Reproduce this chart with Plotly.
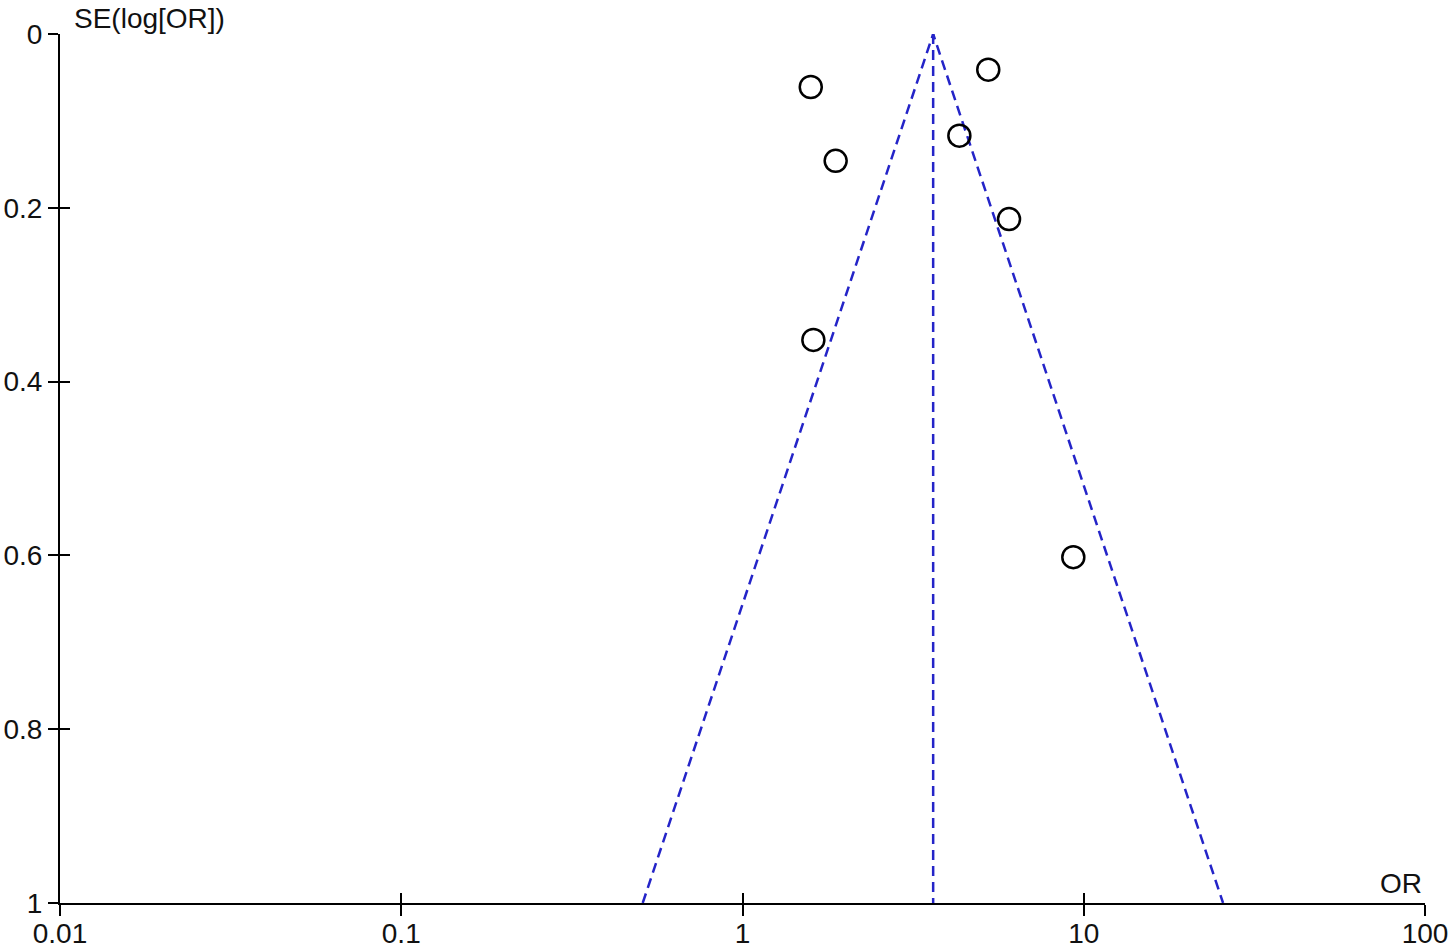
import plotly.graph_objects as go

# study estimates
study_or = [1.585, 5.25, 1.875, 4.32, 6.04, 1.613, 9.32]
study_se = [0.061, 0.041, 0.146, 0.117, 0.213, 0.352, 0.602]

# pooled estimate and 95% pseudo-confidence limits at SE = 1
funnel_or = [0.51, 3.62, 25.6]
funnel_se = [1.0, 0.0, 1.0]
pooled_or = [3.62, 3.62]
pooled_se = [0.0, 1.0]

x_ticks = [0.01, 0.1, 1, 10, 100]
x_ticktext = ['0.01', '0.1', '1', '10', '100']
y_ticks = [0, 0.2, 0.4, 0.6, 0.8, 1]
y_ticktext = ['0', '0.2', '0.4', '0.6', '0.8', '1']

blue = '#2424c8'
font = dict(family='Liberation Sans, Arial, sans-serif', size=28, color='#111111')

fig = go.Figure()

fig.add_trace(go.Scatter(
    x=funnel_or, y=funnel_se, mode='lines',
    line=dict(color=blue, width=2.5, dash='10px,6px'),
    showlegend=False, hoverinfo='skip'
))
fig.add_trace(go.Scatter(
    x=pooled_or, y=pooled_se, mode='lines',
    line=dict(color=blue, width=2.5, dash='10px,6px'),
    showlegend=False, hoverinfo='skip'
))
fig.add_trace(go.Scatter(
    x=study_or, y=study_se, mode='markers', xaxis='x2', yaxis='y2',
    marker=dict(symbol='circle-open', size=22, color='black', line=dict(width=2.5)),
    showlegend=False, hovertemplate='OR %{x:.2f}<br>SE %{y:.3f}<extra></extra>'
))

axis_common = dict(showgrid=False, zeroline=False, tickwidth=2, tickcolor='black',
                   automargin=False)

fig.update_layout(
    width=1455, height=950,
    paper_bgcolor='white', plot_bgcolor='white',
    margin=dict(l=60, r=30, t=34, b=47),
    font=font,
    xaxis=dict(type='log', range=[-2, 2], tickvals=x_ticks, ticktext=x_ticktext,
               ticks='outside', ticklen=11, showline=True, linecolor='black', linewidth=2,
               tickfont=font, ticklabelstandoff=-7, **axis_common),
    yaxis=dict(range=[1, 0], tickvals=y_ticks, ticktext=y_ticktext,
               ticks='outside', ticklen=10, showline=True, linecolor='black', linewidth=2,
               tickfont=font, ticklabelstandoff=0, **axis_common),
    xaxis2=dict(type='log', range=[-2, 2], tickvals=x_ticks, overlaying='x', anchor='y',
                side='bottom', ticks='inside', ticklen=10, showticklabels=False,
                showline=False, **axis_common),
    yaxis2=dict(range=[1, 0], tickvals=y_ticks, overlaying='y', anchor='x',
                side='left', ticks='inside', ticklen=10, showticklabels=False,
                showline=False, **axis_common),
    annotations=[
        dict(text='SE(log[OR])', xref='paper', yref='paper', x=0, y=1,
             xanchor='left', yanchor='bottom', xshift=12, yshift=-2,
             showarrow=False, font=font),
        dict(text='OR', xref='paper', yref='paper', x=1, y=0,
             xanchor='right', yanchor='bottom', xshift=-1, yshift=2,
             showarrow=False, font=font),
    ],
)

# drop the default 8px page margin so the figure fills the window
fig.write_html('out.html', config={'displayModeBar': False},
               post_script="document.body.style.margin = '0px';")
